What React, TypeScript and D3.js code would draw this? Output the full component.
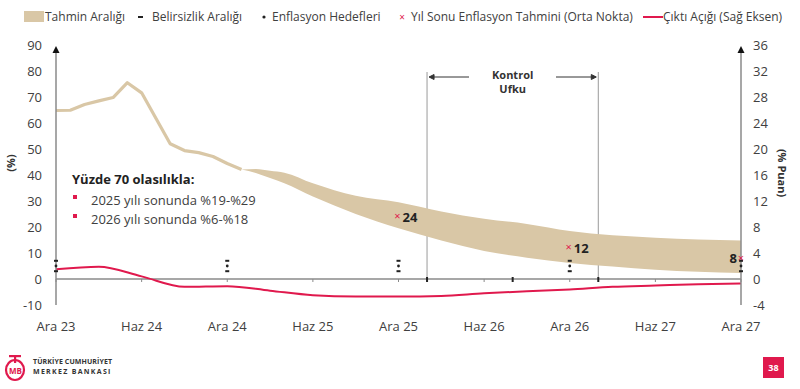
import * as d3 from 'd3'

// months counted from Ara 23 (0) to Ara 27 (48)
const xLabels = ['Ara 23', 'Haz 24', 'Ara 24', 'Haz 25', 'Ara 25', 'Haz 26', 'Ara 26', 'Haz 27', 'Ara 27']
const leftTicks = [-10, 0, 10, 20, 30, 40, 50, 60, 70, 80, 90]
const rightTicks = [-4, 0, 4, 8, 12, 16, 20, 24, 28, 32, 36]

const histMonths = [0, 1, 2, 3, 4, 5, 6, 7, 8, 9, 10, 11, 12, 13]
const histValues = [64.8, 64.9, 67.1, 68.5, 69.8, 75.5, 71.6, 61.8, 52.0, 49.4, 48.6, 47.1, 44.4, 42.1]

const bandMonths = [13, 14, 15, 16, 18, 21, 24, 27, 30, 33, 36, 39, 42, 45, 48]
const bandHigh = [42.1, 42.3, 41.6, 40.9, 36.8, 32.0, 29.5, 26.0, 23.2, 21.2, 18.5, 16.8, 15.9, 15.2, 14.8]
const bandLow = [42.1, 40.8, 38.8, 36.8, 31.7, 25.0, 19.5, 14.8, 10.8, 8.2, 6.2, 4.8, 3.6, 2.8, 2.3]

const gapMonths = [0, 3, 6, 9, 12, 15, 18, 21, 24, 27, 30, 33, 36, 39, 42, 45, 48]
const gapValues = [1.5, 1.9, 0.4, -1.2, -1.1, -1.8, -2.5, -2.7, -2.7, -2.6, -2.2, -1.9, -1.6, -1.2, -1.0, -0.8, -0.7]

const targetMonths = [0, 12, 24, 36, 48]
const targets = [5, 5, 5, 5, 5]
const uncLow = [3, 3, 3, 3, 3]
const uncHigh = [7, 7, 7, 7, 7]

const forecastMonths = [24, 36, 48]
const forecastValues = [24, 12, 8]

const controlMonths = [26, 38]

const TAN = '#d9c7a6'
const RED = '#e0194d'
const GREY = '#404040'
const AXIS = '#8a8a8a'
const FONT = '"Open Sans", sans-serif'

export default function App() {
  const x = d3.scaleLinear().domain([0, 48]).range([56, 741])
  const yL = d3.scaleLinear().domain([-10, 90]).range([305, 45])
  const yR = d3.scaleLinear().domain([-4, 36]).range([305, 45])

  const histLine = d3.line<number>().x((_, i) => x(histMonths[i])).y(d => yL(d))(histValues)
  const band = d3.area<number>()
    .x(m => x(m))
    .y0((_, i) => yL(bandLow[i]))
    .y1((_, i) => yL(bandHigh[i]))
    .curve(d3.curveMonotoneX)(bandMonths)
  const gapLine = d3.line<number>().x((_, i) => x(gapMonths[i])).y(d => yR(d))
    .curve(d3.curveMonotoneX)(gapValues)

  const y0 = yL(0)

  return (
    <svg width={800} height={389} style={{ position: 'absolute', left: 0, top: 0, fontFamily: FONT }}>
      <rect width={800} height={389} fill="#fff" />

      {/* legend */}
      <g fontSize={12} fill={GREY}>
        <rect x={24} y={11} width={20} height={11} fill={TAN} />
        <text x={45} y={21}>Tahmin Aralığı</text>
        <rect x={138} y={16} width={5} height={2} fill="#222" />
        <text x={152} y={21}>Belirsizlik Aralığı</text>
        <circle cx={264} cy={17} r={1.6} fill="#222" />
        <text x={272} y={21}>Enflasyon Hedefleri</text>
        <text x={402} y={21} fill={RED} fontSize={10} textAnchor="middle">×</text>
        <text x={411} y={21}>Yıl Sonu Enflasyon Tahmini (Orta Nokta)</text>
        <line x1={643} x2={663} y1={17} y2={17} stroke={RED} strokeWidth={2} />
        <text x={663} y={21}>Çıktı Açığı (Sağ Eksen)</text>
      </g>

      {/* control horizon */}
      {controlMonths.map(m => (
        <line key={m} x1={x(m)} x2={x(m)} y1={72} y2={y0} stroke="#9a9a9a" strokeWidth={1} />
      ))}
      <g stroke="#333" strokeWidth={1}>
        <line x1={x(controlMonths[0]) + 3} x2={469} y1={77} y2={77} />
        <path d={`M${x(controlMonths[0]) + 2},77 l5,-2.5 v5 z`} fill="#333" />
        <line x1={556} x2={x(controlMonths[1]) - 3} y1={77} y2={77} />
        <path d={`M${x(controlMonths[1]) - 2},77 l-5,-2.5 v5 z`} fill="#333" />
      </g>
      <text x={(x(controlMonths[0]) + x(controlMonths[1])) / 2} y={79} textAnchor="middle" fontSize={11} fontWeight="bold" fill="#333">Kontrol</text>
      <text x={(x(controlMonths[0]) + x(controlMonths[1])) / 2} y={93} textAnchor="middle" fontSize={11} fontWeight="bold" fill="#333">Ufku</text>

      {/* forecast band and history */}
      <path d={band ?? ''} fill={TAN} />
      <path d={histLine ?? ''} fill="none" stroke={TAN} strokeWidth={3.2} strokeLinejoin="round" />

      {/* zero line and ticks */}
      <line x1={x(0)} x2={x(48)} y1={y0} y2={y0} stroke={AXIS} strokeWidth={1.5} />
      {xLabels.map((l, i) => (
        <g key={l}>
          <line x1={x(i * 6)} x2={x(i * 6)} y1={y0} y2={y0 + 3} stroke={AXIS} />
          <text x={x(i * 6)} y={331} textAnchor="middle" fontSize={13} fill={GREY}>{l}</text>
        </g>
      ))}
      {[controlMonths[0], (controlMonths[0] + controlMonths[1]) / 2, controlMonths[1]].map(m => (
        <rect key={m} x={x(m) - 1} y={y0 - 2} width={2} height={5} fill="#222" />
      ))}

      {/* output gap */}
      <path d={gapLine ?? ''} fill="none" stroke={RED} strokeWidth={2} />

      {/* axes */}
      <line x1={x(0)} x2={x(0)} y1={50} y2={305} stroke={AXIS} strokeWidth={1.5} />
      <path d={`M${x(0)},46 l-3.5,7 h7 z`} fill="#111" />
      <line x1={x(48)} x2={x(48)} y1={50} y2={305} stroke={AXIS} strokeWidth={1.5} />
      <path d={`M${x(48)},46 l-3.5,7 h7 z`} fill="#111" />
      {leftTicks.map(t => (
        <text key={t} x={42} y={yL(t) + 5} textAnchor="end" fontSize={13} fill={GREY}>{t}</text>
      ))}
      {rightTicks.map(t => (
        <text key={t} x={753} y={yR(t) + 5} fontSize={13} fill={GREY}>{t}</text>
      ))}
      <text transform="translate(15,163) rotate(-90)" textAnchor="middle" fontSize={11} fontWeight="bold" fill="#333">(%)</text>
      <text transform="translate(778,173) rotate(90)" textAnchor="middle" fontSize={11} fontWeight="bold" fill="#333">(% Puan)</text>

      {/* targets with uncertainty */}
      {targetMonths.map((m, i) => (
        <g key={m} fill="#222">
          <rect x={x(m) - 2} y={yL(uncHigh[i]) - 1} width={4} height={2} />
          <circle cx={x(m)} cy={yL(targets[i])} r={1.4} />
          <rect x={x(m) - 2} y={yL(uncLow[i]) - 1} width={4} height={2} />
        </g>
      ))}

      {/* year-end forecasts */}
      {forecastMonths.map((m, i) => (
        <g key={m}>
          <text x={m === 48 ? x(m) : x(m) - 1} y={yL(forecastValues[i]) + 3.5} textAnchor="middle" fontSize={11} fill={RED}>×</text>
          <text x={m === 48 ? x(m) - 4 : x(m) + 4} y={yL(forecastValues[i]) + 5}
            textAnchor={m === 48 ? 'end' : 'start'} fontSize={13} fontWeight="bold" fill="#222">{forecastValues[i]}</text>
        </g>
      ))}

      {/* probability note */}
      <text x={72} y={184} fontSize={13} fontWeight="bold" fill="#222">Yüzde 70 olasılıkla:</text>
      <rect x={73} y={195} width={4} height={4} fill={RED} />
      <text x={91} y={205} fontSize={13} fill={GREY}>2025 yılı sonunda %19-%29</text>
      <rect x={73} y={214} width={4} height={4} fill={RED} />
      <text x={91} y={224} fontSize={13} fill={GREY}>2026 yılı sonunda %6-%18</text>

      {/* footer */}
      <g>
        <ellipse cx={15} cy={370} rx={9} ry={10} fill="none" stroke={RED} strokeWidth={2.2} />
        <rect x={9} y={355} width={12} height={2.2} fill={RED} />
        <rect x={14} y={355} width={2.2} height={8} fill={RED} />
        <text x={15.5} y={374} textAnchor="middle" fontSize={8} fontWeight="bold" fill={RED}>MB</text>
        <text x={33} y={364} fontSize={7} fontWeight="bold" fill="#333" letterSpacing={0.1}>TÜRKİYE CUMHURİYET</text>
        <text x={33} y={374} fontSize={7} fontWeight="bold" fill="#333" letterSpacing={1.3}>MERKEZ BANKASI</text>
        <rect x={763} y={357} width={21} height={21} fill={RED} />
        <text x={773.5} y={371} textAnchor="middle" fontSize={9} fontWeight="bold" fill="#fff">38</text>
      </g>
    </svg>
  )
}
